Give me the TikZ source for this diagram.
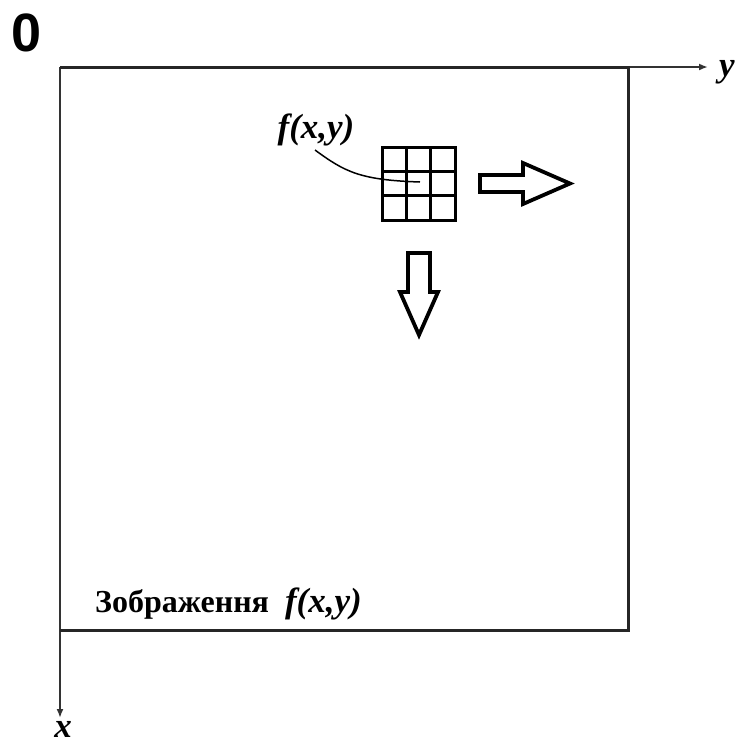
\documentclass[tikz,border=0pt]{standalone}
\usepackage{fontspec}
\setmainfont{Liberation Serif}
\newfontfamily\zerofont{Liberation Sans}
\usetikzlibrary{arrows.meta}
\begin{document}
\begin{tikzpicture}[x=1pt,y=-1pt,
  frame/.style={line width=3pt,draw=black!85},
  axis/.style={line width=2pt,draw=black!80,-{Latex[length=9pt,width=7pt]}},
  gridline/.style={line width=3pt},
  hollow/.style={line width=3.8pt,line join=miter},
  lbl/.style={inner sep=0pt,font=\fontsize{32}{36}\selectfont\bfseries},
  flbl/.style={inner sep=0pt,font=\fontsize{35}{40}\selectfont\bfseries\itshape}]
\useasboundingbox (0,0) rectangle (736,745);
% axes
\coordinate (O) at (60,67);
\coordinate (Yend) at (708,67);
\coordinate (Xend) at (60,718);
\draw[axis] (O) -- (Yend);
\draw[axis] (O) -- (Xend);
\node[inner sep=0pt,font=\zerofont\fontsize{54}{60}\selectfont\bfseries] (zero) at (27,33) {0};
\node[flbl,anchor=west] (ylab) at (719,72) {y};
\node[flbl] (xlab) at (63,729) {x};
% image frame
\draw[frame] (O) -- (628,67) -- (628,630) -- (60,630);
% grid
\draw[gridline] (382,147) rectangle (455,220);
\draw[gridline] (406.3,147) -- (406.3,220) (430.7,147) -- (430.7,220)
  (382,171.3) -- (455,171.3) (382,195.7) -- (455,195.7);
\coordinate (gc) at (420,182);
\node[flbl] (flab) at (316,130) {f(x,y)};
\draw[line width=1.5pt] (315,150) .. controls (345,172) and (360,180) .. (gc);
% right arrow
\draw[hollow] (480,175) -- (523,175) -- (523,163) -- (570,183.5) -- (523,204) -- (523,192) -- (480,192) -- cycle;
% down arrow
\draw[hollow] (408,253) -- (430,253) -- (430,292) -- (438,292) -- (419,335) -- (400,292) -- (408,292) -- cycle;
% bottom label
\node[lbl,anchor=base west] (title) at (95,612) {Зображення\ \ {\fontsize{35}{40}\selectfont\itshape f(x,y)}};
\end{tikzpicture}
\end{document}
